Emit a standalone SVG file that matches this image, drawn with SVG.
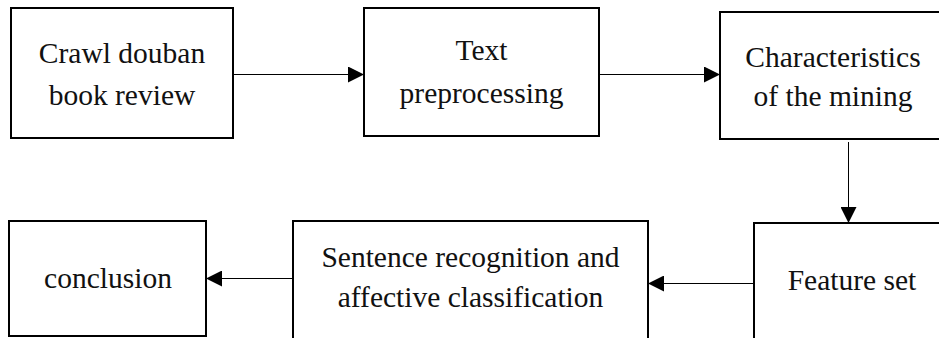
<svg xmlns="http://www.w3.org/2000/svg" width="939" height="338" viewBox="0 0 939 338">
<style>
.box{fill:#fff;stroke:#000;stroke-width:2}
.lbl{font-size:29.5px;fill:#111;text-anchor:middle}
.conn{stroke:#000;stroke-width:1;fill:none}
</style>
<defs>
<marker id="ah" markerUnits="userSpaceOnUse" markerWidth="16" markerHeight="16" viewBox="0 0 16 16" refX="16" refY="8" orient="auto">
<path d="M0,0 L16,8 L0,16 Z" fill="#000"/>
</marker>
</defs>
<rect width="939" height="338" fill="#fff"/>
<g id="connectors">
<line class="conn" x1="233" y1="74.5" x2="364" y2="74.5" marker-end="url(#ah)"/>
<line class="conn" x1="599" y1="74.5" x2="720" y2="74.5" marker-end="url(#ah)"/>
<line class="conn" x1="848.5" y1="142" x2="848.5" y2="223" marker-end="url(#ah)"/>
<line class="conn" x1="754" y1="283.5" x2="648" y2="283.5" marker-end="url(#ah)"/>
<line class="conn" x1="293" y1="278.5" x2="206" y2="278.5" marker-end="url(#ah)"/>
</g>
<g font-family="Liberation Serif, serif">
<g id="crawl">
<rect class="box" x="11" y="8" width="222" height="130"/>
<text class="lbl" x="122" y="63">Crawl douban</text>
<text class="lbl" x="122" y="105">book review</text>
</g>
<g id="preprocessing">
<rect class="box" x="364" y="8" width="235" height="128"/>
<text class="lbl" x="481.5" y="60">Text</text>
<text class="lbl" x="481.5" y="103">preprocessing</text>
</g>
<g id="mining">
<rect class="box" x="720" y="12" width="226" height="127"/>
<text class="lbl" x="833" y="67">Characteristics</text>
<text class="lbl" x="833" y="106">of the mining</text>
</g>
<g id="featureset">
<rect class="box" x="754" y="223" width="196" height="130"/>
<text class="lbl" x="852" y="290">Feature set</text>
</g>
<g id="sentence">
<rect class="box" x="293" y="221" width="355" height="130"/>
<text class="lbl" x="470.5" y="267">Sentence recognition and</text>
<text class="lbl" x="470.5" y="307">affective classification</text>
</g>
<g id="conclusion">
<rect class="box" x="9" y="221" width="197" height="115"/>
<text class="lbl" x="108" y="288">conclusion</text>
</g>
</g>
</svg>
